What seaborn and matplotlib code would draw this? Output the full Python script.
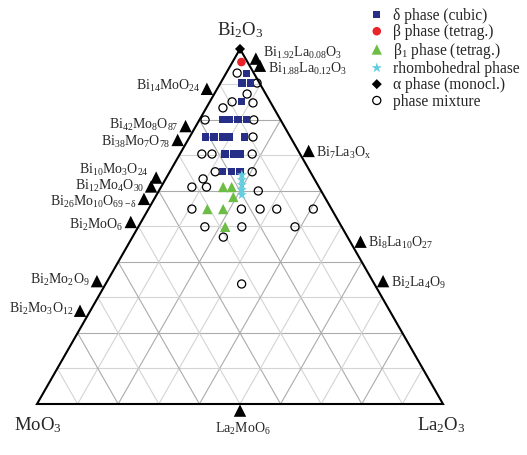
import numpy as np
import pandas as pd
import matplotlib
matplotlib.use("Agg")
import matplotlib.pyplot as plt
import seaborn as sns

# Sample compositions in mol% (Bi2O3, La2O3); MoO3 is the balance
delta_bi = [93.2, 90.4, 90.4, 85.1,
            80.0, 80.0, 80.0, 80.0,
            75.2, 75.2, 75.2, 75.2, 75.2,
            70.4, 70.4, 70.4,
            65.4, 65.4, 65.4]
delta_la = [5.1, 5.3, 7.3, 7.9,
            5.6, 7.5, 9.5, 11.5,
            4.0, 6.0, 8.0, 9.9, 13.6,
            11.1, 13.1, 15.0,
            13.1, 15.1, 17.3]

beta_bi = [96.3]
beta_la = [2.2]

beta1_bi = [61.1, 61.1, 58.3, 54.9, 54.9, 49.9]
beta1_la = [15.3, 17.4, 19.2, 14.5, 18.4, 21.4]

rhombo_bi = [64.5, 63.1, 61.7, 60.3, 58.9]
rhombo_la = [18.2, 18.9, 19.6, 20.3, 21.0]

alpha_bi = [100.0]
alpha_la = [0.0]

mix_bi = [93.2, 90.4, 87.3, 85.1, 84.8, 83.4,
          80.0, 80.0, 75.2,
          70.4, 70.4, 70.4, 65.4, 65.4,
          63.4, 61.1, 61.1, 60.0,
          54.9, 54.9, 54.9, 54.9, 54.9,
          49.9, 49.9, 49.9, 47.0, 33.8]
mix_la = [2.7, 9.0, 8.1, 5.5, 10.8, 4.1,
          1.4, 13.4, 15.6,
          5.4, 7.9, 17.8, 11.2, 20.3,
          9.2, 7.6, 11.2, 24.5,
          10.7, 22.9, 27.5, 31.6, 40.6,
          16.4, 25.5, 38.6, 22.4, 33.5]

# Known compounds on the binary edges (Bi2O3 fraction along the edge)
bimo_names = [r"Bi$_{14}$MoO$_{24}$", r"Bi$_{42}$Mo$_8$O$_{87}$", r"Bi$_{38}$Mo$_7$O$_{78}$",
              r"Bi$_{10}$Mo$_3$O$_{24}$", r"Bi$_{12}$Mo$_4$O$_{30}$", r"Bi$_{26}$Mo$_{10}$O$_{69-δ}$",
              r"Bi$_2$MoO$_6$", r"Bi$_2$Mo$_2$O$_9$", r"Bi$_2$Mo$_3$O$_{12}$"]
bimo_bi = [0.875, 0.77, 0.731, 0.625, 0.6, 0.565, 0.5, 1 / 3, 0.25]

bila_names = [r"Bi$_{1.92}$La$_{0.08}$O$_3$", r"Bi$_{1.88}$La$_{0.12}$O$_3$",
              r"Bi$_7$La$_3$O$_x$", r"Bi$_8$La$_{10}$O$_{27}$", r"Bi$_2$La$_4$O$_9$"]
bila_bi = [0.96, 0.94, 0.7, 4 / 9, 1 / 3]

lamo_names = [r"La$_2$MoO$_6$"]
lamo_la = [0.5]

vertex_names = [r"Bi$_2$O$_3$", r"MoO$_3$", r"La$_2$O$_3$"]

phase_labels = ["δ phase (cubic)", "β phase (tetrag.)", r"β$_1$ phase (tetrag.)",
                "rhombohedral phase", "α phase (monocl.)", "phase mixture"]

# vertical nudges (points) that keep neighbouring compound labels apart
bimo_dy = [-0.4, -1.2, -3.3, 3.6, -1.8, -4.0, -4.0, -1.2, -1.2]
bila_dy = [2.2, -4.6, -3.3, -3.3, -3.3]

SQ3 = np.sqrt(3) / 2


def to_xy(bi, la):
    bi = np.asarray(bi, float)
    la = np.asarray(la, float)
    return la + bi / 2, bi * SQ3


sns.set_style("white")
plt.rcParams["font.family"] = ["Liberation Serif", "DejaVu Serif"]
plt.rcParams["mathtext.fontset"] = "custom"
plt.rcParams["mathtext.rm"] = "Liberation Serif"
plt.rcParams["mathtext.it"] = "Liberation Serif:italic"
plt.rcParams["mathtext.default"] = "regular"

fig = plt.figure(figsize=(5.27, 4.56), dpi=100)
ax = fig.add_axes([0, 0, 1, 1])
ax.set_xlim(-37 / 406, 490 / 406)
ax.set_ylim(-51 / 410, 405 / 410)
ax.set_axis_off()

# grid every 10 mol%
for k in range(1, 10):
    f = k / 10
    col = "#ababab" if k % 2 == 0 else "#d4d4d4"
    for (b0, l0), (b1, l1) in [((f, 0), (f, 1 - f)), ((0, f), (1 - f, f)), ((0, 1 - f), (1 - f, 0))]:
        xs, ys = to_xy([b0, b1], [l0, l1])
        ax.plot(xs, ys, color=col, lw=0.8, zorder=1)

tx, ty = to_xy([1, 0, 0, 1], [0, 0, 1, 0])
ax.plot(tx, ty, color="black", lw=1.5, zorder=2, solid_joinstyle="miter")

# sample points
rows = []
series = [(delta_bi, delta_la, phase_labels[0]), (beta_bi, beta_la, phase_labels[1]),
          (beta1_bi, beta1_la, phase_labels[2]), (rhombo_bi, rhombo_la, phase_labels[3]),
          (alpha_bi, alpha_la, phase_labels[4]), (mix_bi, mix_la, phase_labels[5])]
for bi, la, name in series:
    for b, l in zip(bi, la):
        rows.append({"Bi2O3": b / 100, "La2O3": l / 100, "phase": name})
df = pd.DataFrame(rows)
df["MoO3"] = 1 - df["Bi2O3"] - df["La2O3"]
df["x"], df["y"] = to_xy(df["Bi2O3"], df["La2O3"])

styles = {
    phase_labels[0]: dict(marker="s", s=26, color="#262e88", edgecolor="none", linewidth=0, zorder=4),
    phase_labels[1]: dict(marker="o", s=38, color="#e8232a", edgecolor="none", linewidth=0, zorder=4),
    phase_labels[2]: dict(marker="^", s=55, color="#6cbd45", edgecolor="none", linewidth=0, zorder=4),
    phase_labels[3]: dict(marker="*", s=60, color="#62cde0", edgecolor="none", linewidth=0, zorder=5),
    phase_labels[4]: dict(marker="D", s=26, color="black", edgecolor="none", linewidth=0, zorder=4),
    phase_labels[5]: dict(marker="o", s=34, color="none", edgecolor="black", linewidth=0.9, zorder=3),
}
handles = []
for name in phase_labels:
    sub = df[df["phase"] == name]
    sns.scatterplot(data=sub, x="x", y="y", ax=ax, label=name, legend=False, **styles[name])
    handles.append(ax.collections[-1])

# edge compounds: markers sit just outside the edge
off = 0.022
nl = np.array([-SQ3, 0.5]) * off
nr = np.array([SQ3, 0.5]) * off
nb = np.array([0.0, -0.73]) * off

ex, ey = to_xy(bimo_bi, [0] * len(bimo_bi))
lx, ly = ex + nl[0], ey + nl[1]
ex, ey = to_xy(bila_bi, [1 - b for b in bila_bi])
rx, ry = ex + nr[0], ey + nr[1]
ex, ey = to_xy([0] * len(lamo_la), lamo_la)
bx, by = ex + nb[0], ey + nb[1]
cmp_df = pd.DataFrame({"x": np.concatenate([lx, rx, bx]), "y": np.concatenate([ly, ry, by])})
sns.scatterplot(data=cmp_df, x="x", y="y", ax=ax, marker="^", s=80, color="black",
                edgecolor="none", linewidth=0, legend=False, zorder=4)

for name, x, y, dy in zip(bimo_names, lx, ly, bimo_dy):
    ax.annotate(name, (x, y), xytext=(-5, dy), textcoords="offset points",
                ha="right", va="baseline", fontsize=10)
for name, x, y, dy in zip(bila_names, rx, ry, bila_dy):
    ax.annotate(name, (x, y), xytext=(5.5, dy), textcoords="offset points",
                ha="left", va="baseline", fontsize=10)
for name, x, y in zip(lamo_names, bx, by):
    ax.annotate(name, (x, y), xytext=(2, -15.5), textcoords="offset points",
                ha="center", va="baseline", fontsize=10)

# vertex labels
vx, vy = to_xy([1, 0, 0], [0, 0, 1])
for name, x, y, dxy in zip(vertex_names, vx, vy, [(0.5, 10.5), (0.5, -18), (-1, -18)]):
    ax.annotate(name, (x, y), xytext=dxy, textcoords="offset points",
                ha="center", va="baseline", fontsize=13.5)

ax.legend(handles=handles, labels=phase_labels, loc="upper left",
          bbox_to_anchor=(369 / 527, 1 - 8 / 456), bbox_transform=fig.transFigure,
          frameon=False, fontsize=11.2, handlelength=1.0, handletextpad=0.55,
          labelspacing=0.02, borderpad=0, borderaxespad=0, scatterpoints=1)

fig.savefig("out.png", dpi=100)
